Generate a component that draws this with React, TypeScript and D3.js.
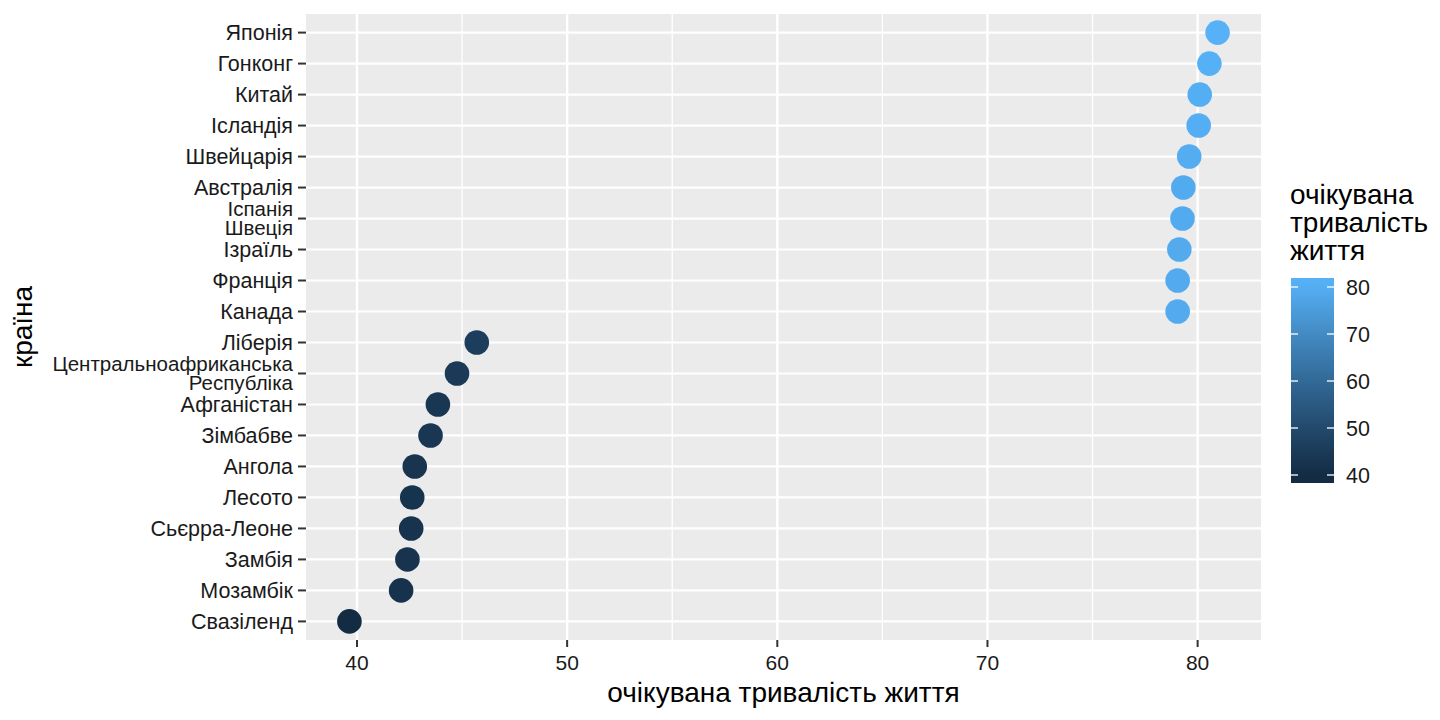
import React from "react";
import * as d3 from "d3";

// ---- data (top to bottom) ----
const countries: string[] = [
  "Японія",
  "Гонконг",
  "Китай",
  "Ісландія",
  "Швейцарія",
  "Австралія",
  "Іспанія\nШвеція",
  "Ізраїль",
  "Франція",
  "Канада",
  "Ліберія",
  "Центральноафриканська\nРеспубліка",
  "Афганістан",
  "Зімбабве",
  "Ангола",
  "Лесото",
  "Сьєрра-Леоне",
  "Замбія",
  "Мозамбік",
  "Свазіленд",
];
const lifeExpectancy: number[] = [
  80.95, 80.56, 80.1, 80.05, 79.6, 79.32, 79.28, 79.13, 79.05, 79.05,
  45.7, 44.76, 43.85, 43.5, 42.75, 42.63, 42.58, 42.4, 42.1, 39.64,
];
const xTicks: number[] = [40, 50, 60, 70, 80];
const xMinorTicks: number[] = [45, 55, 65, 75];
const legendTicks: number[] = [40, 50, 60, 70, 80];
const xTitle = "очікувана тривалість життя";
const yTitle = "країна";
const legendTitle: string[] = ["очікувана", "тривалість", "життя"];

// ---- layout ----
const W = 1440;
const H = 720;
const panel = { left: 306, right: 1261, top: 14, bottom: 640 };
const FONT = "'Liberation Sans', Arial, Helvetica, sans-serif";
const TEXT = "#1a1a1a";

export default function App() {
  const [minV, maxV] = d3.extent(lifeExpectancy) as [number, number];
  const span = maxV - minV;
  const x = d3
    .scaleLinear()
    .domain([minV - span * 0.05, maxV + span * 0.05])
    .range([panel.left, panel.right]);
  const y = d3
    .scalePoint<string>()
    .domain(countries)
    .range([panel.top, panel.bottom])
    .padding(0.6);
  const color = d3
    .scaleLinear<string>()
    .domain([minV, maxV])
    .range(["#132B43", "#56B1F7"])
    .interpolate(d3.interpolateLab)
    .clamp(true);

  // legend
  const legX = 1291;
  const legW = 43;
  const legTop = 278;
  const legBottom = 483;
  const legScale = d3.scaleLinear().domain([40, 80]).range([475, 287]);
  const stops = d3.range(0, 21).map((i) => {
    const yy = legBottom - ((legBottom - legTop) * i) / 20;
    return { off: i / 20, c: color(legScale.invert(yy)) };
  });

  const data = countries.map((c, i) => ({ c, v: lifeExpectancy[i] }));

  return (
    <svg
      width={W}
      height={H}
      style={{ position: "absolute", left: 0, top: 0, background: "#fff" }}
      fontFamily={FONT}
    >
      <defs>
        <linearGradient id="leg" x1="0" y1="1" x2="0" y2="0">
          {stops.map((s, i) => (
            <stop key={i} offset={s.off} stopColor={s.c} />
          ))}
        </linearGradient>
      </defs>
      {/* panel */}
      <rect
        x={panel.left}
        y={panel.top}
        width={panel.right - panel.left}
        height={panel.bottom - panel.top}
        fill="#EBEBEB"
      />
      {xMinorTicks.map((t) => (
        <line
          key={"mn" + t}
          x1={x(t)}
          x2={x(t)}
          y1={panel.top}
          y2={panel.bottom}
          stroke="#fff"
          strokeWidth={1.3}
        />
      ))}
      {xTicks.map((t) => (
        <line
          key={"mj" + t}
          x1={x(t)}
          x2={x(t)}
          y1={panel.top}
          y2={panel.bottom}
          stroke="#fff"
          strokeWidth={2.4}
        />
      ))}
      {countries.map((c) => (
        <line
          key={"h" + c}
          x1={panel.left}
          x2={panel.right}
          y1={y(c)}
          y2={y(c)}
          stroke="#fff"
          strokeWidth={2.2}
        />
      ))}
      {/* points */}
      {data.map((d) => (
        <circle
          key={"p" + d.c}
          cx={x(d.v)}
          cy={y(d.c)}
          r={12.3}
          fill={color(d.v)}
        />
      ))}
      {/* y axis */}
      {countries.map((c) => {
        const lines = c.split("\n");
        const yy = y(c) as number;
        const lh = 19;
        return (
          <g key={"yl" + c}>
            <line
              x1={panel.left - 8}
              x2={panel.left}
              y1={yy}
              y2={yy}
              stroke="#333"
              strokeWidth={2}
            />
            <text
              x={panel.left - 13}
              y={yy}
              textAnchor="end"
              fontSize={lines.length > 1 ? 20.5 : 21.5}
              fill={TEXT}
            >
              {lines.map((l, i) => (
                <tspan
                  key={i}
                  x={panel.left - 13}
                  y={yy + (i - (lines.length - 1) / 2) * lh}
                  dy="0.35em"
                >
                  {l}
                </tspan>
              ))}
            </text>
          </g>
        );
      })}
      {/* x axis */}
      {xTicks.map((t) => (
        <g key={"xt" + t}>
          <line
            x1={x(t)}
            x2={x(t)}
            y1={panel.bottom}
            y2={panel.bottom + 7}
            stroke="#333"
            strokeWidth={2}
          />
          <text
            x={x(t)}
            y={panel.bottom + 23}
            textAnchor="middle"
            dy="0.35em"
            fontSize={21}
            fill={TEXT}
          >
            {t}
          </text>
        </g>
      ))}
      <text
        x={(panel.left + panel.right) / 2}
        y={692}
        dy="0.35em"
        textAnchor="middle"
        fontSize={28}
        fill="#000"
      >
        {xTitle}
      </text>
      <text
        transform={`translate(22,${(panel.top + panel.bottom) / 2}) rotate(-90)`}
        textAnchor="middle"
        dy="0.35em"
        fontSize={28}
        fill="#000"
      >
        {yTitle}
      </text>
      {/* legend */}
      {legendTitle.map((l, i) => (
        <text
          key={"lt" + i}
          x={legX - 1}
          y={194 + i * 28}
          dy="0.35em"
          fontSize={28}
          fill="#000"
        >
          {l}
        </text>
      ))}
      <rect
        x={legX}
        y={legTop}
        width={legW}
        height={legBottom - legTop}
        fill="url(#leg)"
      />
      {legendTicks.map((t) => (
        <g key={"lg" + t}>
          <line
            x1={legX}
            x2={legX + 7}
            y1={legScale(t)}
            y2={legScale(t)}
            stroke="#fff"
            strokeWidth={1.3}
          />
          <line
            x1={legX + legW - 7}
            x2={legX + legW}
            y1={legScale(t)}
            y2={legScale(t)}
            stroke="#fff"
            strokeWidth={1.3}
          />
          <text
            x={legX + legW + 12}
            y={legScale(t)}
            dy="0.35em"
            fontSize={21.5}
            fill={TEXT}
          >
            {t}
          </text>
        </g>
      ))}
    </svg>
  );
}
